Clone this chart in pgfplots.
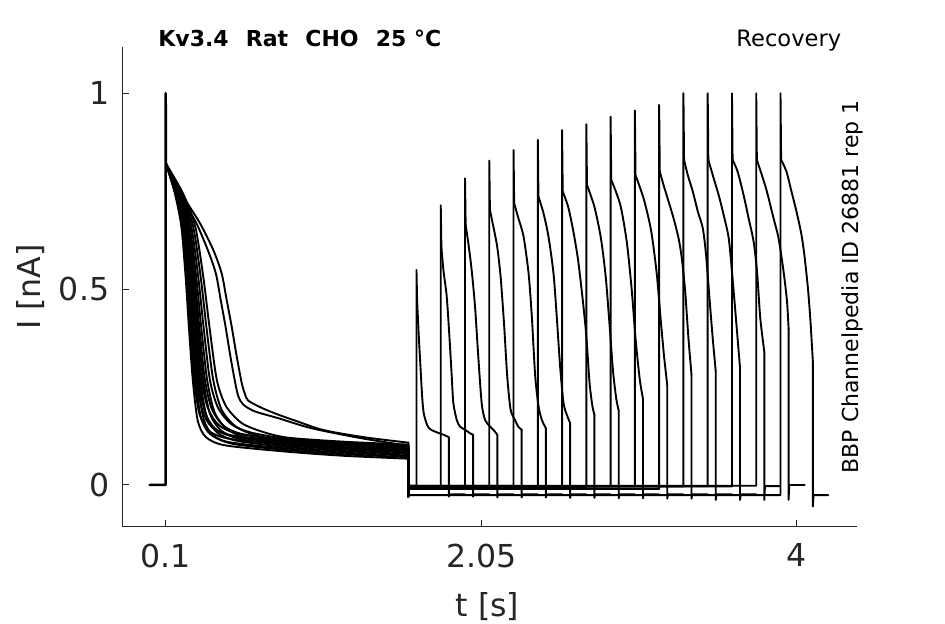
\documentclass[border=0pt]{standalone}
\usepackage{fontspec}
\setmainfont{DejaVu Sans}
\usepackage{pgfplots}
\pgfplotsset{compat=1.18}
\definecolor{axgray}{RGB}{38,38,38}
\pgfplotsset{
  sweep/.style={black, line width=0.95pt, mark=none, line join=round, line cap=round},
  sw/.style={sweep, smooth, tension=0.45},
}
\begin{document}
\begin{tikzpicture}
\path[use as bounding box] (0,0) rectangle (472.5pt,312pt);
\begin{axis}[
  at={(61.15pt,48.65pt)}, anchor=south west,
  scale only axis, width=367.2pt, height=239.7pt,
  xmin=-0.1683, xmax=4.3711, ymin=-0.1065, ymax=1.1174,
  axis x line*=bottom, axis y line*=left,
  xtick={0.1,2.05,4}, xticklabels={0.1,2.05,4},
  ytick={0,0.5,1}, yticklabels={0,0.5,1},
  /pgf/number format/assume math mode=true,
  tick align=inside, major tick length=3.5pt,
  tick style={color=axgray, line width=0.5pt},
  axis line style={color=axgray, line width=0.5pt},
  ticklabel style={font=\fontsize{15.8}{18}\selectfont, text=axgray},
  xticklabel style={yshift=-5pt},
  yticklabel style={xshift=-3pt},
  clip=false,
]
% common start: holding level and prepulse onset
\addplot[sweep, line width=1.25pt] coordinates {(0,0) (0.1,0) (0.1,1) (0.1018,0.82)};
% ---------- sweep 1 ----------
\addplot[sw] coordinates {(0.1018,0.82) (0.1564,0.7446) (0.1967,0.6595) (0.2230,0.5319) (0.2432,0.4042) (0.2674,0.2680) (0.2977,0.1649) (0.3481,0.1224) (0.4681,0.1011) (0.85,0.0850) (1.2,0.0745) (1.6,0.0671)};
\addplot[sweep] coordinates {(1.6,0.0671) (1.6,-0.03) (1.604,-0.002) (1.65,-0.002) (1.65,0.549) (1.654,0.47)};
\addplot[sw] coordinates {(1.654,0.47) (1.6644,0.379) (1.6747,0.302) (1.685,0.226) (1.695,0.183) (1.716,0.153) (1.7365,0.142) (1.778,0.134) (1.819,0.128) (1.85,0.122)};
\addplot[sweep] coordinates {(1.85,0.122) (1.85,-0.03) (1.854,-0.024) (1.95,-0.024)};
% ---------- sweep 2 ----------
\addplot[sw] coordinates {(0.1018,0.82) (0.1592,0.7446) (0.2017,0.6595) (0.2293,0.5319) (0.2505,0.4042) (0.2759,0.2680) (0.3078,0.1829) (0.3608,0.1404) (0.4808,0.1191) (0.85,0.1030) (1.2,0.0925) (1.6,0.0851)};
\addplot[sweep] coordinates {(1.6,0.0851) (1.6,-0.03) (1.604,-0.004) (1.80,-0.004) (1.80,0.714) (1.804,0.608)};
\addplot[sw] coordinates {(1.804,0.608) (1.8165,0.549) (1.837,0.481) (1.8536,0.379) (1.868,0.277) (1.878,0.209) (1.899,0.166) (1.919,0.149) (1.95,0.141) (1.981,0.132) (2.0,0.128)};
\addplot[sweep] coordinates {(2.0,0.128) (2.0,-0.03) (2.004,-0.024) (2.1,-0.024)};
% ---------- sweep 3 ----------
\addplot[sw] coordinates {(0.1018,0.82) (0.1621,0.7446) (0.2066,0.6595) (0.2355,0.5319) (0.2578,0.4042) (0.2845,0.2680) (0.3178,0.1729) (0.3735,0.1304) (0.4935,0.1091) (0.85,0.0930) (1.2,0.0825) (1.6,0.0751)};
\addplot[sweep] coordinates {(1.6,0.0751) (1.6,-0.03) (1.604,-0.003) (1.95,-0.003) (1.95,0.783) (1.954,0.664)};
\addplot[sw] coordinates {(1.954,0.664) (1.9706,0.617) (1.991,0.549) (2.012,0.455) (2.032,0.328) (2.053,0.209) (2.074,0.166) (2.105,0.149) (2.125,0.141) (2.15,0.128)};
\addplot[sweep] coordinates {(2.15,0.128) (2.15,-0.032) (2.154,-0.024) (2.25,-0.024)};
% ---------- sweep 4 ----------
\addplot[sw] coordinates {(0.1018,0.82) (0.1644,0.7446) (0.2105,0.6595) (0.2406,0.5319) (0.2636,0.4042) (0.2913,0.2680) (0.3259,0.1909) (0.3836,0.1484) (0.5036,0.1271) (0.85,0.1110) (1.2,0.1005) (1.6,0.0931)};
\addplot[sweep] coordinates {(1.6,0.0931) (1.6,-0.03) (1.604,-0.005) (2.10,-0.005) (2.10,0.828) (2.104,0.702)};
\addplot[sw] coordinates {(2.104,0.702) (2.125,0.660) (2.149,0.608) (2.170,0.532) (2.191,0.413) (2.211,0.277) (2.232,0.192) (2.259,0.166) (2.279,0.149) (2.30,0.141)};
\addplot[sweep] coordinates {(2.30,0.141) (2.30,-0.032) (2.304,-0.024) (2.40,-0.024)};
% ---------- sweep 5 ----------
\addplot[sw] coordinates {(0.1018,0.82) (0.1667,0.7446) (0.2145,0.6595) (0.2456,0.5319) (0.2695,0.4042) (0.2981,0.2680) (0.3340,0.1689) (0.3937,0.1264) (0.5137,0.1051) (0.85,0.0890) (1.2,0.0785) (1.6,0.0711)};
\addplot[sweep] coordinates {(1.6,0.0711) (1.6,-0.03) (1.604,-0.002) (2.25,-0.002) (2.25,0.855) (2.254,0.719)};
\addplot[sw] coordinates {(2.254,0.719) (2.277,0.685) (2.312,0.634) (2.343,0.540) (2.363,0.430) (2.384,0.277) (2.405,0.200) (2.425,0.166) (2.45,0.145)};
\addplot[sweep] coordinates {(2.45,0.145) (2.45,-0.032) (2.454,-0.024) (2.55,-0.024)};
% ---------- sweep 6 ----------
\addplot[sw] coordinates {(0.1018,0.82) (0.1690,0.7446) (0.2184,0.6595) (0.2506,0.5319) (0.2753,0.4042) (0.3050,0.2680) (0.3420,0.1869) (0.4038,0.1444) (0.5238,0.1231) (0.85,0.1070) (1.2,0.0965) (1.6,0.0891)};
\addplot[sweep] coordinates {(1.6,0.0891) (1.6,-0.03) (1.604,-0.004) (2.40,-0.004) (2.40,0.881) (2.404,0.736)};
\addplot[sw] coordinates {(2.404,0.736) (2.435,0.694) (2.466,0.634) (2.497,0.540) (2.517,0.430) (2.538,0.302) (2.559,0.209) (2.583,0.175) (2.60,0.158)};
\addplot[sweep] coordinates {(2.60,0.158) (2.60,-0.033) (2.604,-0.024) (2.70,-0.024)};
% ---------- sweep 7 ----------
\addplot[sw] coordinates {(0.1018,0.82) (0.1719,0.7446) (0.2234,0.6595) (0.2569,0.5319) (0.2826,0.4042) (0.3135,0.2680) (0.3521,0.1769) (0.4165,0.1344) (0.5365,0.1131) (0.85,0.0970) (1.2,0.0865) (1.6,0.0791)};
\addplot[sweep] coordinates {(1.6,0.0791) (1.6,-0.03) (1.604,-0.003) (2.55,-0.003) (2.55,0.906) (2.554,0.749)};
\addplot[sw] coordinates {(2.554,0.749) (2.587,0.711) (2.618,0.651) (2.649,0.574) (2.680,0.464) (2.700,0.379) (2.720,0.260) (2.738,0.200) (2.75,0.180)};
\addplot[sweep] coordinates {(2.75,0.180) (2.75,-0.033) (2.754,-0.024) (2.85,-0.024)};
% ---------- sweep 8 ----------
\addplot[sw] coordinates {(0.1018,0.82) (0.1748,0.7446) (0.2283,0.6595) (0.2632,0.5319) (0.2899,0.4042) (0.3220,0.2680) (0.3622,0.1949) (0.4292,0.1524) (0.5492,0.1311) (0.85,0.1150) (1.2,0.1045) (1.6,0.0971)};
\addplot[sweep] coordinates {(1.6,0.0971) (1.6,-0.03) (1.604,-0.005) (2.70,-0.005) (2.70,0.921) (2.704,0.766)};
\addplot[sw] coordinates {(2.704,0.766) (2.75,0.71) (2.79,0.63) (2.82,0.53) (2.845,0.40) (2.865,0.29) (2.885,0.22) (2.90,0.19)};
\addplot[sweep] coordinates {(2.90,0.19) (2.90,-0.034) (2.904,-0.024) (3.0,-0.024)};
% ---------- sweep 9 ----------
\addplot[sw] coordinates {(0.1018,0.82) (0.1782,0.7446) (0.2342,0.6595) (0.2707,0.5319) (0.2987,0.4042) (0.3323,0.2680) (0.3743,0.1809) (0.4444,0.1384) (0.5644,0.1171) (0.85,0.1010) (1.2,0.0905) (1.6,0.0831)};
\addplot[sweep] coordinates {(1.6,0.0831) (1.6,-0.03) (1.604,-0.004) (2.85,-0.004) (2.85,0.940) (2.854,0.779)};
\addplot[sw] coordinates {(2.854,0.779) (2.91,0.715) (2.95,0.62) (2.98,0.50) (3.005,0.37) (3.03,0.27) (3.05,0.22)};
\addplot[sweep] coordinates {(3.05,0.22) (3.05,-0.034) (3.054,-0.024) (3.15,-0.024)};
% ---------- sweep 10 ----------
\addplot[sw] coordinates {(0.1018,0.82) (0.1817,0.7446) (0.2402,0.6595) (0.2782,0.5319) (0.3075,0.4042) (0.3425,0.2680) (0.3864,0.1929) (0.4595,0.1504) (0.5795,0.1291) (0.85,0.1130) (1.2,0.1025) (1.6,0.0951)};
\addplot[sweep] coordinates {(1.6,0.0951) (1.6,-0.03) (1.604,-0.003) (3.00,-0.003) (3.00,0.956) (3.004,0.791)};
\addplot[sw] coordinates {(3.004,0.791) (3.055,0.73) (3.10,0.65) (3.135,0.54) (3.16,0.42) (3.18,0.33) (3.20,0.255)};
\addplot[sweep] coordinates {(3.20,0.255) (3.20,-0.035) (3.204,-0.024) (3.30,-0.024)};
% ---------- sweep 11 ----------
\addplot[sw] coordinates {(0.1018,0.82) (0.1863,0.7446) (0.2481,0.6595) (0.2883,0.5319) (0.3192,0.4042) (0.3562,0.2680) (0.4026,0.1849) (0.4798,0.1424) (0.5998,0.1211) (0.85,0.1050) (1.2,0.0945) (1.6,0.0871)};
\addplot[sweep] coordinates {(1.6,0.0871) (1.6,-0.03) (1.604,-0.010) (3.15,-0.010) (3.15,0.970) (3.154,0.800)};
\addplot[sw] coordinates {(3.154,0.800) (3.177,0.766) (3.208,0.724) (3.239,0.681) (3.270,0.630) (3.290,0.579) (3.311,0.494) (3.331,0.375) (3.35,0.281)};
\addplot[sweep] coordinates {(3.35,0.281) (3.35,-0.035) (3.354,-0.024) (3.45,-0.024)};
% ---------- sweep 12 ----------
\addplot[sw] coordinates {(0.1018,0.82) (0.1920,0.7446) (0.2579,0.6595) (0.3008,0.5319) (0.3338,0.4042) (0.3733,0.2680) (0.4227,0.1979) (0.5051,0.1554) (0.6251,0.1341) (0.85,0.1180) (1.2,0.1075) (1.6,0.1001)};
\addplot[sweep] coordinates {(1.6,0.1001) (1.6,-0.03) (1.604,-0.004) (3.30,-0.004) (3.30,1.0) (3.304,0.830)};
\addplot[sw] coordinates {(3.304,0.830) (3.327,0.791) (3.358,0.749) (3.389,0.698) (3.420,0.655) (3.440,0.587) (3.461,0.477) (3.481,0.375) (3.50,0.289)};
\addplot[sweep] coordinates {(3.50,0.289) (3.50,-0.038) (3.504,-0.024) (3.60,-0.024)};
% ---------- sweep 13 ----------
\addplot[sw] coordinates {(0.1018,0.82) (0.1989,0.7446) (0.2698,0.6595) (0.3159,0.5319) (0.3513,0.4042) (0.3938,0.2680) (0.4469,0.1909) (0.5355,0.1484) (0.6555,0.1271) (0.85,0.1110) (1.2,0.1005) (1.6,0.0931)};
\addplot[sweep] coordinates {(1.6,0.0931) (1.6,-0.03) (1.604,-0.003) (3.45,-0.003) (3.45,1.0) (3.454,0.830)};
\addplot[sw] coordinates {(3.454,0.830) (3.487,0.783) (3.518,0.740) (3.549,0.689) (3.580,0.630) (3.600,0.545) (3.621,0.443) (3.65,0.298)};
\addplot[sweep] coordinates {(3.65,0.298) (3.65,-0.038) (3.654,-0.024) (3.75,-0.024)};
% ---------- sweep 14 ----------
\addplot[sw] coordinates {(0.1018,0.82) (0.2064,0.7446) (0.2826,0.6595) (0.3322,0.5319) (0.3703,0.4042) (0.4160,0.2680) (0.4731,0.2009) (0.5684,0.1584) (0.6884,0.1371) (0.85,0.1210) (1.2,0.1105) (1.6,0.1031)};
\addplot[sweep] coordinates {(1.6,0.1031) (1.6,-0.03) (1.604,-0.004) (3.60,-0.004) (3.60,1.0) (3.604,0.830)};
\addplot[sw] coordinates {(3.604,0.830) (3.635,0.800) (3.672,0.740) (3.703,0.681) (3.734,0.621) (3.755,0.545) (3.775,0.426) (3.80,0.340)};
\addplot[sweep] coordinates {(3.80,0.340) (3.80,-0.038) (3.804,-0.003) (3.90,-0.003)};
% ---------- sweep 15 ----------
\addplot[sw] coordinates {(0.1018,0.82) (0.13,0.795) (0.20,0.735) (0.29,0.668) (0.36,0.600) (0.41,0.540) (0.44,0.472) (0.47,0.404) (0.50,0.328) (0.53,0.26) (0.55,0.225) (0.58,0.205) (0.65,0.188) (0.80,0.170) (1.0,0.145) (1.3,0.12) (1.6,0.10)};
\addplot[sweep] coordinates {(1.6,0.10) (1.6,-0.03) (1.604,-0.002) (3.75,-0.002) (3.75,1.0) (3.754,0.830)};
\addplot[sw] coordinates {(3.754,0.830) (3.785,0.791) (3.816,0.749) (3.857,0.681) (3.888,0.630) (3.919,0.545) (3.94,0.470) (3.95,0.40)};
\addplot[sweep] coordinates {(3.95,0.40) (3.95,-0.038) (3.954,0.0) (4.05,0.0)};
% ---------- sweep 16 ----------
\addplot[sw] coordinates {(0.1018,0.82) (0.13,0.796) (0.209,0.736) (0.312,0.668) (0.394,0.600) (0.446,0.540) (0.477,0.472) (0.508,0.404) (0.539,0.328) (0.570,0.260) (0.590,0.232) (0.611,0.215) (0.703,0.195) (0.806,0.178) (0.930,0.160) (1.033,0.145) (1.136,0.135) (1.342,0.121) (1.6,0.108)};
\addplot[sweep] coordinates {(1.6,0.108) (1.6,-0.03) (1.604,-0.026) (3.90,-0.026) (3.90,1.0) (3.904,0.830)};
\addplot[sw] coordinates {(3.904,0.830) (3.937,0.800) (3.968,0.749) (3.999,0.698) (4.030,0.638) (4.050,0.579) (4.07,0.50) (4.085,0.42) (4.10,0.315)};
\addplot[sweep] coordinates {(4.10,0.315) (4.10,-0.055) (4.104,-0.026) (4.195,-0.026)};
\end{axis}
\node[anchor=base west, font=\bfseries\fontsize{11}{13}\selectfont, inner sep=0pt] at (79pt,288.65pt) {Kv3.4\hspace{0.78em}Rat\hspace{0.78em}CHO\hspace{0.78em}25 °C};
\node[anchor=base west, font=\fontsize{11.3}{13}\selectfont, inner sep=0pt] at (368pt,288.65pt) {Recovery};
\node[anchor=base, rotate=90, font=\fontsize{11}{13}\selectfont, inner sep=0pt] at (429pt,168.65pt) {BBP Channelpedia ID 26881 rep 1};
\node[anchor=base, rotate=90, font=\fontsize{15.8}{18}\selectfont, text=axgray, inner sep=0pt] at (20.5pt,168.5pt) {I [nA]};
\node[anchor=base, font=\fontsize{15.8}{18}\selectfont, text=axgray, inner sep=0pt] at (243.75pt,3.65pt) {t [s]};
\end{tikzpicture}
\end{document}
